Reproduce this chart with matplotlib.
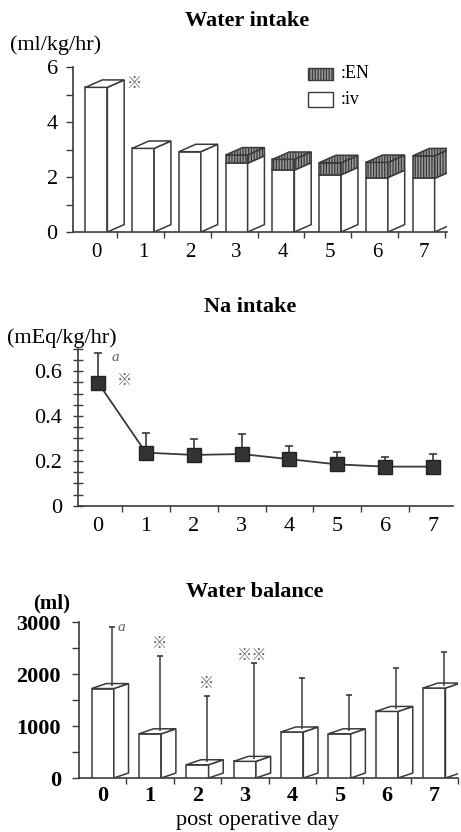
import matplotlib
matplotlib.use('Agg')
import matplotlib.pyplot as plt
from matplotlib.patches import Polygon, Rectangle
from matplotlib.ticker import MultipleLocator, FixedLocator

plt.rcParams['font.family'] = ['Liberation Serif', 'Noto Sans CJK JP', 'DejaVu Sans']
plt.rcParams['hatch.linewidth'] = 0.9
plt.rcParams['hatch.color'] = '#4a4a4a'

# ---------------- data ----------------
days = [0, 1, 2, 3, 4, 5, 6, 7]
day_labels = ['0', '1', '2', '3', '4', '5', '6', '7']

water_iv = [5.26, 3.04, 2.92, 2.50, 2.25, 2.08, 1.98, 1.95]
water_en = [0.00, 0.00, 0.00, 0.30, 0.39, 0.44, 0.55, 0.82]

na_mean = [0.548, 0.237, 0.227, 0.231, 0.208, 0.185, 0.175, 0.175]
na_err = [0.131, 0.086, 0.071, 0.088, 0.059, 0.056, 0.041, 0.056]

bal_mean = [1720, 850, 255, 320, 885, 850, 1280, 1730]
bal_err = [1180, 1500, 1315, 1890, 1035, 750, 835, 685]

LC = '#3a3a3a'
STAR_C = '#606060'
EN_FACE = '#9a9a9a'
STAR_FONT = ['Noto Sans CJK JP', 'DejaVu Sans']

fig = plt.figure(figsize=(4.61, 8.32), dpi=100)


def box3d(ax, xc, y0, y1, w, dx, dy, face='white', hatch=None, top=True):
    xl, xr = xc - w / 2, xc + w / 2
    kw = dict(facecolor=face, edgecolor=LC, linewidth=1.1, hatch=hatch,
              joinstyle='miter', zorder=3)
    ax.add_patch(Polygon([(xl, y0), (xr, y0), (xr, y1), (xl, y1)], closed=True, **kw))
    ax.add_patch(Polygon([(xr, y0), (xr + dx, y0 + dy), (xr + dx, y1 + dy), (xr, y1)],
                         closed=True, **kw))
    if top:
        ax.add_patch(Polygon([(xl, y1), (xr, y1), (xr + dx, y1 + dy), (xl + dx, y1 + dy)],
                             closed=True, **kw))


def style_axes(ax):
    for s in ('top', 'right'):
        ax.spines[s].set_visible(False)
    for s in ('left', 'bottom'):
        ax.spines[s].set_color(LC)
        ax.spines[s].set_linewidth(1.2)


def up_errors(ax, xs, base, tops, capw, lw=1.1):
    ax.vlines(xs, base, tops, colors=LC, linewidth=lw, zorder=4)
    ax.plot(xs, tops, linestyle='none', marker='_', markersize=capw,
            markeredgewidth=1.2, color=LC, zorder=4, clip_on=False)


# ---------------- Panel 1 : Water intake ----------------
ax1 = fig.add_axes([73 / 461, 1 - 232 / 832, 374 / 461, 165 / 832])
style_axes(ax1)
ax1.set_xlim(-0.5, 7.5)
ax1.set_ylim(0, 6)
W1, DX1, DY1 = 0.47, 0.36, 0.27
for d, iv, en in zip(days, water_iv, water_en):
    box3d(ax1, d, 0, iv, W1, DX1, DY1, top=(en == 0))
    if en > 0:
        box3d(ax1, d, iv, iv + en, W1, DX1, DY1, face=EN_FACE, hatch='||||||')
ax1.set_xticks(days)
ax1.set_xticklabels(day_labels)
ax1.xaxis.set_minor_locator(FixedLocator([d + 0.45 for d in days]))
ax1.tick_params(axis='x', which='major', length=0, labelsize=15, pad=8)
ax1.tick_params(axis='x', which='minor', length=4, width=1, color=LC, direction='out')
ax1.set_yticks([0, 2, 4, 6])
ax1.yaxis.set_minor_locator(MultipleLocator(1))
ax1.tick_params(axis='y', which='both', length=5, width=1, color=LC, direction='out',
                labelsize=16, pad=6)
ax1.text(0 + W1 / 2 + DX1 + 0.06, water_iv[0] + DY1 - 0.12, '※', fontsize=11,
         color=STAR_C, ha='left', va='center', family=STAR_FONT)
# legend
ax1.add_patch(Rectangle((0.628, 0.921), 0.067, 0.073, transform=ax1.transAxes,
                        facecolor=EN_FACE, edgecolor=LC, hatch='||||||', linewidth=1.0,
                        clip_on=False))
ax1.add_patch(Rectangle((0.628, 0.758), 0.067, 0.09, transform=ax1.transAxes,
                        facecolor='white', edgecolor=LC, linewidth=1.0, clip_on=False))
ax1.text(0.715, 0.958, ':EN', transform=ax1.transAxes, fontsize=13, va='center', ha='left')
ax1.text(0.715, 0.80, ':iv', transform=ax1.transAxes, fontsize=13, va='center', ha='left')

fig.text(247 / 461, 1 - 21 / 832, 'Water intake', fontsize=16, fontweight='bold',
         ha='center', va='center')
fig.text(10 / 461, 1 - 45 / 832, '(ml/kg/hr)', fontsize=16, ha='left', va='center')

# ---------------- Panel 2 : Na intake ----------------
ax2 = fig.add_axes([78 / 461, 1 - 506 / 832, 375 / 461, 157.5 / 832])
style_axes(ax2)
ax2.set_xlim(-0.42, 7.42)
ax2.set_ylim(0, 0.7)
up_errors(ax2, days, na_mean, [m + e for m, e in zip(na_mean, na_err)], capw=6, lw=1.2)
ax2.plot(days, na_mean, color=LC, linewidth=1.3, marker='s', markersize=9.5,
         markerfacecolor='#333333', markeredgecolor='#222222', zorder=5, clip_on=False)
ax2.set_xticks(days)
ax2.set_xticklabels(day_labels)
ax2.xaxis.set_minor_locator(FixedLocator([d + 0.5 for d in days]))
ax2.tick_params(axis='x', which='major', length=0, labelsize=16, pad=8)
ax2.tick_params(axis='x', which='minor', length=4, width=1, color=LC, direction='out')
ax2.set_yticks([0, 0.2, 0.4, 0.6])
ax2.set_yticklabels(['0', '0.2', '0.4', '0.6'])
ax2.yaxis.set_minor_locator(MultipleLocator(0.05))
ax2.tick_params(axis='y', which='both', length=7, width=1, color=LC, direction='inout',
                labelsize=16, pad=8)
ax2.text(0 + 0.28, na_mean[0] + na_err[0] - 0.02, 'a', fontsize=11, style='italic',
         color=STAR_C, ha='left', va='center')
ax2.text(0 + 0.40, na_mean[0] + 0.01, '※', fontsize=11, color=STAR_C, ha='left',
         va='center', family=STAR_FONT)

fig.text(250 / 461, 1 - 307 / 832, 'Na intake', fontsize=16, fontweight='bold',
         ha='center', va='center')
fig.text(7 / 461, 1 - 338 / 832, '(mEq/kg/hr)', fontsize=16, ha='left', va='center')

# ---------------- Panel 3 : Water balance ----------------
ax3 = fig.add_axes([79 / 461, 1 - 778 / 832, 379 / 461, 156 / 832])
style_axes(ax3)
ax3.set_xlim(-0.5, 7.5)
ax3.set_ylim(0, 3000)
W3, DX3, DY3 = 0.47, 0.31, 96
EX = 0.2
for d, m in zip(days, bal_mean):
    box3d(ax3, d, 0, m, W3, DX3, DY3)
up_errors(ax3, [d + EX for d in days], [m + DY3 / 2 for m in bal_mean],
          [m + e for m, e in zip(bal_mean, bal_err)], capw=5)
ax3.set_xticks(days)
ax3.set_xticklabels(day_labels, fontweight='bold')
ax3.xaxis.set_minor_locator(FixedLocator([d + 0.5 for d in days]))
ax3.tick_params(axis='x', which='major', length=0, labelsize=16, pad=6)
ax3.tick_params(axis='x', which='minor', length=4, width=1, color=LC, direction='out')
ax3.set_yticks([0, 1000, 2000, 3000])
ax3.set_yticklabels(['0', '1000', '2000', '3000'], fontweight='bold')
ax3.yaxis.set_minor_locator(MultipleLocator(500))
ax3.tick_params(axis='y', which='both', length=5, width=1, color=LC, direction='out',
                labelsize=16, pad=8)
ax3.text(0 + EX + 0.12, bal_mean[0] + bal_err[0], 'a', fontsize=11, style='italic',
         color=STAR_C, ha='left', va='center')
ax3.text(1 + EX, bal_mean[1] + bal_err[1] + 230, '※', fontsize=11, color=STAR_C,
         ha='center', va='center', family=STAR_FONT)
ax3.text(2 + EX, bal_mean[2] + bal_err[2] + 240, '※', fontsize=11, color=STAR_C,
         ha='center', va='center', family=STAR_FONT)
ax3.text(3 + EX - 0.05, bal_mean[3] + bal_err[3] + 150, '※※', fontsize=11, color=STAR_C,
         ha='center', va='center', family=STAR_FONT)

fig.text(255 / 461, 1 - 592 / 832, 'Water balance', fontsize=16, fontweight='bold',
         ha='center', va='center')
fig.text(33 / 461, 1 - 603 / 832, '(ml)', fontsize=15, fontweight='bold', ha='left',
         va='center')
fig.text(257 / 461, 1 - 820 / 832, 'post operative day', fontsize=16, ha='center',
         va='center')

fig.savefig('out.png', dpi=100)
